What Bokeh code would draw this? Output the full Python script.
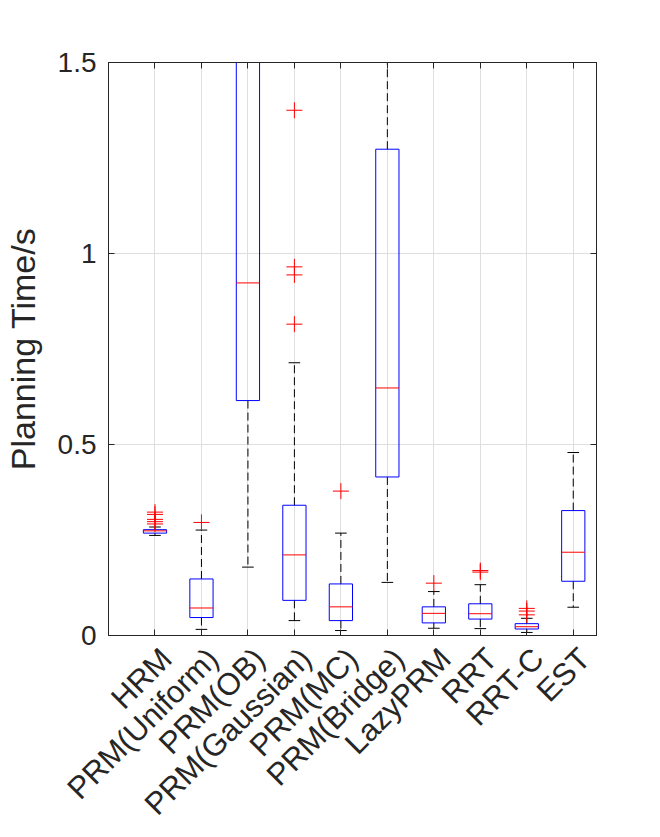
from bokeh.plotting import figure
from bokeh.models import FixedTicker, LinearAxis, Range1d
from bokeh.embed import file_html
from bokeh.resources import INLINE

categories = ["HRM", "PRM(Uniform)", "PRM(OB)", "PRM(Gaussian)", "PRM(MC)",
              "PRM(Bridge)", "LazyPRM", "RRT", "RRT-C", "EST"]
q1 = [0.268, 0.047, 0.615, 0.092, 0.039, 0.415, 0.033, 0.043, 0.017, 0.142]
median = [0.274, 0.072, 0.923, 0.211, 0.075, 0.648, 0.058, 0.057, 0.023, 0.218]
q3 = [0.277, 0.148, 1.90, 0.341, 0.135, 1.273, 0.075, 0.083, 0.031, 0.327]
whisker_low = [0.262, 0.016, 0.179, 0.039, 0.013, 0.139, 0.019, 0.018, 0.008, 0.074]
whisker_high = [0.284, 0.276, 3.20, 0.714, 0.268, 2.40, 0.115, 0.133, 0.045, 0.479]
outlier_cat = ["HRM", "HRM", "HRM", "HRM", "HRM", "PRM(Uniform)",
               "PRM(Gaussian)", "PRM(Gaussian)", "PRM(Gaussian)", "PRM(Gaussian)",
               "PRM(MC)", "LazyPRM", "RRT", "RRT", "RRT-C", "RRT-C", "RRT-C"]
outlier_val = [0.323, 0.317, 0.304, 0.298, 0.292, 0.296,
               1.375, 0.965, 0.944, 0.815,
               0.378, 0.137, 0.166, 0.170, 0.071, 0.064, 0.054]
y_ticks = [0, 0.5, 1, 1.5]
y_tick_labels = ["0", "0.5", "1", "1.5"]

FONT = "Liberation Sans"
TXT = "#262626"
GRID = "#dfdfdf"
HALF_BOX = 0.25
HALF_CAP = 0.125
X_START, X_END = 0, 10.5
LABEL_SHIFT = 0.247  # rotated labels sit a little right of their tick (MATLAB style)

pos = list(range(1, len(categories) + 1))
idx = {c: i + 1 for i, c in enumerate(categories)}

p = figure(width=652, height=837, x_range=(X_START, X_END), y_range=(0, 1.5),
           output_backend="svg", toolbar_location=None,
           min_border_left=108, min_border_right=56,
           min_border_top=62, min_border_bottom=195)
p.outline_line_color = TXT
p.background_fill_color = "white"
p.extra_x_ranges = {"labels": Range1d(start=X_START - LABEL_SHIFT, end=X_END - LABEL_SHIFT)}

# grids
p.xgrid.ticker = FixedTicker(ticks=pos)
p.ygrid.ticker = FixedTicker(ticks=y_ticks)
for g in (p.xgrid, p.ygrid):
    g.grid_line_color = GRID
    g.grid_line_width = 1

# bottom axis: tick marks only
xa = p.xaxis[0]
xa.ticker = FixedTicker(ticks=pos)
xa.major_label_text_color = None
xa.major_label_text_font_size = "1px"
xa.major_label_standoff = 0
xa.major_tick_in = 6
xa.major_tick_out = 0
xa.minor_tick_line_color = None
xa.axis_line_color = TXT
xa.major_tick_line_color = TXT

# bottom axis: rotated category labels
xl = LinearAxis(x_range_name="labels", ticker=FixedTicker(ticks=pos),
                major_label_overrides={i: c for i, c in zip(pos, categories)},
                major_label_orientation=0.785398,
                major_label_text_font=FONT, major_label_text_font_size="31px",
                major_label_text_color=TXT, major_label_standoff=18,
                axis_line_color=None, major_tick_line_color=None,
                minor_tick_line_color=None, major_tick_in=0, major_tick_out=0)
p.add_layout(xl, "below")

# left axis
ya = p.yaxis[0]
ya.ticker = FixedTicker(ticks=y_ticks)
ya.major_label_overrides = {t: l for t, l in zip(y_ticks, y_tick_labels)}
ya.major_label_text_font = FONT
ya.major_label_text_font_size = "28px"
ya.major_label_text_color = TXT
ya.major_label_standoff = 12
ya.major_tick_in = 6
ya.major_tick_out = 0
ya.minor_tick_line_color = None
ya.axis_line_color = TXT
ya.major_tick_line_color = TXT
ya.axis_label = "Planning Time/s"
ya.axis_label_text_font = FONT
ya.axis_label_text_font_size = "34px"
ya.axis_label_text_font_style = "normal"
ya.axis_label_text_color = TXT
ya.axis_label_standoff = 13

# top and right axes (box on), no labels
top = LinearAxis(ticker=FixedTicker(ticks=pos), major_label_text_color=None,
                 major_label_text_font_size="1px",
                 major_tick_in=6, major_tick_out=0, minor_tick_line_color=None,
                 axis_line_color=TXT, major_tick_line_color=TXT, major_label_standoff=0)
right = LinearAxis(ticker=FixedTicker(ticks=y_ticks), major_label_text_color=None,
                   major_label_text_font_size="1px",
                   major_tick_in=6, major_tick_out=0, minor_tick_line_color=None,
                   axis_line_color=TXT, major_tick_line_color=TXT, major_label_standoff=0)
p.add_layout(top, "above")
p.add_layout(right, "right")

# whiskers (dashed)
p.segment(x0=pos, y0=q3, x1=pos, y1=whisker_high, line_color="black",
          line_width=1, line_dash="8 4")
p.segment(x0=pos, y0=q1, x1=pos, y1=whisker_low, line_color="black",
          line_width=1, line_dash="8 4")
# caps
p.segment(x0=[x - HALF_CAP for x in pos], y0=whisker_high,
          x1=[x + HALF_CAP for x in pos], y1=whisker_high, line_color="black", line_width=1)
p.segment(x0=[x - HALF_CAP for x in pos], y0=whisker_low,
          x1=[x + HALF_CAP for x in pos], y1=whisker_low, line_color="black", line_width=1)
# boxes
p.quad(left=[x - HALF_BOX for x in pos], right=[x + HALF_BOX for x in pos],
       bottom=q1, top=q3, fill_color=None, line_color="#0000ff", line_width=1)
# medians
p.segment(x0=[x - HALF_BOX for x in pos], y0=median,
          x1=[x + HALF_BOX for x in pos], y1=median, line_color="#ff0000", line_width=1)
# outliers
p.scatter(x=[idx[c] for c in outlier_cat], y=outlier_val, marker="cross",
          size=16, line_color="#ff0000", line_width=1)

open("out.html", "w").write(file_html(p, INLINE))
